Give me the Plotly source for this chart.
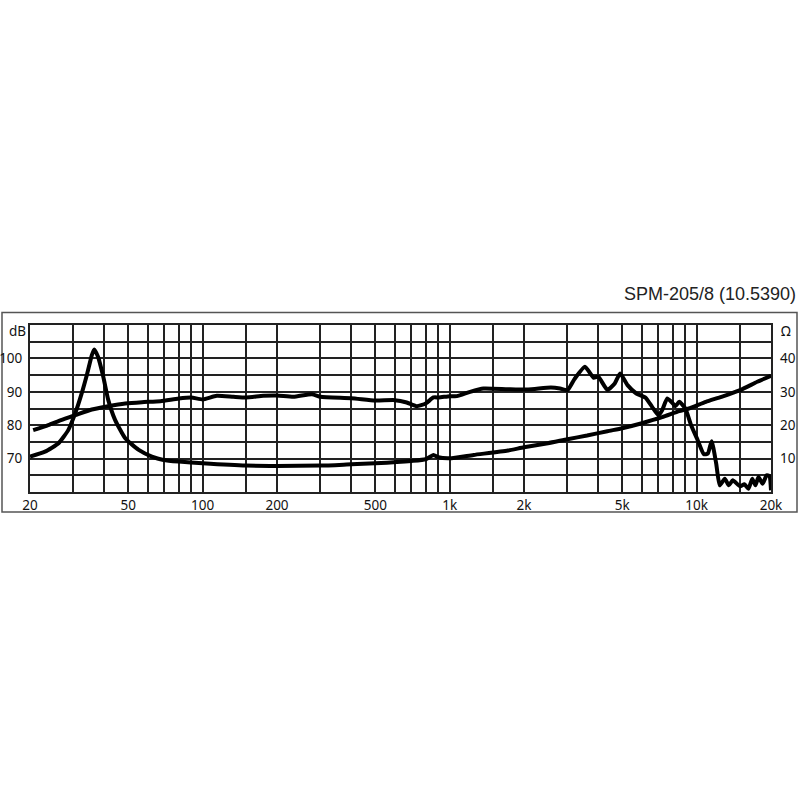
import plotly.graph_objects as go

# ---------------- data ----------------
spl_freq = [20.6, 23.7, 26.7, 30.5, 35.6, 41.5, 48.6, 56.8, 67.5, 80, 90, 100, 114, 133, 150, 176, 200,
            233, 277, 300, 400, 500, 600, 670, 735, 800, 860, 905, 1000, 1070, 1210, 1370, 1720, 2080,
            2570, 2800, 3000, 3200, 3530, 3830, 3990, 4350, 4660, 4900, 5250, 5700, 6200, 6600, 7000,
            7250, 7600, 7900, 8200, 8500, 9000, 9500, 10100, 10700, 11100, 11500, 12000, 12400, 13000,
            13500, 14000, 15000, 15600, 16200, 16800, 17300, 17800, 18500, 19200, 19700, 20000]
spl_db = [78.5, 80, 81.5, 83, 84.7, 85.7, 86.5, 86.9, 87.2, 88.0, 88.3, 87.7, 88.8, 88.5, 88.3, 88.8, 88.9,
          88.5, 89.3, 88.5, 88.1, 87.4, 87.5, 86.8, 85.7, 86.5, 88.3, 88.3, 88.7, 88.7, 90, 91, 90.8, 90.7,
          91.3, 91, 90.5, 93.8, 97.5, 94.2, 94.6, 90.6, 92.5, 95.5, 92, 89.5, 88.3, 85.5, 83,
          84.5, 88, 87, 85.7, 87, 85, 80, 75.5, 71.3, 71.5, 75.2, 68.5, 62, 64,
          62, 63.5, 61.7, 62.3, 61, 64, 62, 64.5, 62.5, 65, 64.8, 60.5]

imp_freq = [20, 23, 26.1, 28.6, 30.5, 32.4, 34.1, 35.6, 36.4, 37.7, 39.6, 41.5, 44.2, 48.6, 55.1, 62.3,
            69.4, 80, 100, 150, 200, 300, 400, 500, 700, 800, 860, 900, 1000, 1250, 1720, 2000, 2500,
            3000, 3600, 4350, 5000, 6000, 7250, 8500, 9300, 10900, 12600, 15000, 17600, 20000]
imp_ohm = [10.6, 12.1, 14.6, 18.6, 23.6, 29.6, 35.5, 41.0, 42.7, 40.5, 34.5, 27.5, 21.6, 16.1, 12.6, 10.6,
           9.6, 9.1, 8.6, 7.9, 7.8, 7.9, 8.3, 8.6, 9.3, 9.8, 11.1, 10.4, 10.1, 11.1, 12.4, 13.4, 14.6,
           15.8, 16.9, 18.2, 19.1, 20.6, 22.4, 24.2, 25.0, 27.0, 28.5, 30.5, 33.0, 34.8]

grid_freqs = [20, 30, 40, 50, 60, 70, 80, 90, 100, 150, 200, 300, 400, 500, 600, 700, 800, 900,
              1000, 1500, 2000, 3000, 4000, 5000, 6000, 7000, 8000, 9000, 10000, 15000, 20000]
freq_labels = {20: "20", 50: "50", 100: "100", 200: "200", 500: "500", 1000: "1k",
               2000: "2k", 5000: "5k", 10000: "10k", 20000: "20k"}
db_ticks = [60, 65, 70, 75, 80, 85, 90, 95, 100, 105, 110]
db_labels = {70: "70", 80: "80", 90: "90", 100: "100"}
ohm_ticks = [10, 20, 30, 40]
title_text = "SPM-205/8 (10.5390)"

# ---------------- figure ----------------
W, H = 800, 800
L, R, T, B = 30, 771, 325, 492
pw, ph = R - L, B - T

def px_x(x):
    return (x - L) / pw

def px_y(y):
    return (B - y) / ph

font_tick = dict(family="Noto Sans", size=13.5, color="#111")
grid_col = "#222"

fig = go.Figure()
fig.add_trace(go.Scatter(x=spl_freq, y=spl_db, mode="lines", yaxis="y",
                         line=dict(color="black", width=4, shape="spline", smoothing=0.5),
                         showlegend=False, hoverinfo="skip"))
fig.add_trace(go.Scatter(x=imp_freq, y=imp_ohm, mode="lines", yaxis="y2",
                         line=dict(color="black", width=4, shape="spline", smoothing=0.5),
                         showlegend=False, hoverinfo="skip"))

fig.update_layout(
    template="none",
    width=W, height=H,
    margin=dict(l=L, r=W - R, t=T, b=H - B, pad=0, autoexpand=False),
    paper_bgcolor="white", plot_bgcolor="white",
    xaxis=dict(type="log", range=[1.30103, 4.30103], automargin=False,
               tickvals=grid_freqs,
               ticktext=[freq_labels.get(f, "") for f in grid_freqs],
               showgrid=True, gridcolor=grid_col, gridwidth=2,
               showline=True, linecolor=grid_col, linewidth=2, mirror=True,
               ticks="", tickfont=font_tick, zeroline=False, ticklabelstandoff=0),
    yaxis=dict(range=[60, 110], tickvals=db_ticks, automargin=False,
               ticktext=[db_labels.get(v, "") for v in db_ticks],
               showgrid=True, gridcolor=grid_col, gridwidth=2,
               showline=True, linecolor=grid_col, linewidth=2, mirror=True,
               ticks="", tickfont=font_tick, zeroline=False, ticklabelstandoff=3),
    yaxis2=dict(range=[0, 50], overlaying="y", side="right", tickvals=ohm_ticks, automargin=False,
                showgrid=False, showline=False, ticks="", tickfont=font_tick,
                zeroline=False, ticklabelstandoff=8),
)

# outer frame
fig.add_shape(type="rect", xref="paper", yref="paper",
              x0=px_x(2), x1=px_x(797), y0=px_y(512), y1=px_y(312.5),
              line=dict(color="#555", width=1.5), layer="below")

fig.add_annotation(xref="paper", yref="paper", x=px_x(7), y=px_y(331), text="dB",
                   showarrow=False, xanchor="left", yanchor="middle", font=font_tick)
fig.add_annotation(xref="paper", yref="paper", x=px_x(779), y=px_y(331), text="Ω",
                   showarrow=False, xanchor="left", yanchor="middle", font=font_tick)
fig.add_annotation(xref="paper", yref="paper", x=px_x(798), y=px_y(294), text=title_text,
                   showarrow=False, xanchor="right", yanchor="middle",
                   font=dict(family="Liberation Sans", size=18, color="#222"))

fig.write_html("out.html", config={"displayModeBar": False},
               post_script="document.body.style.margin='0px';document.body.style.overflow='hidden';")
